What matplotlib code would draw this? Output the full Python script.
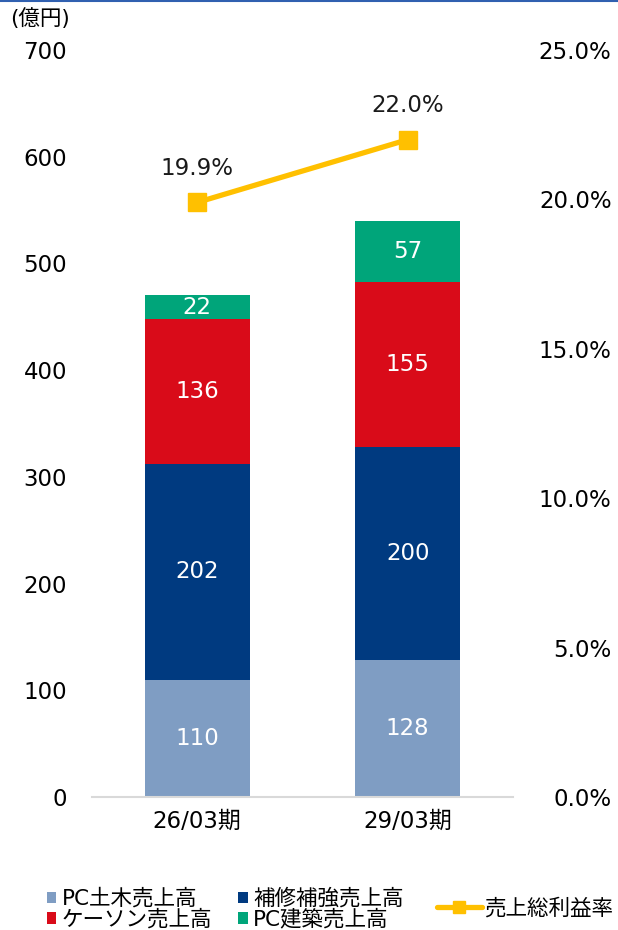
import matplotlib.pyplot as plt
from matplotlib.lines import Line2D
import numpy as np

plt.rcParams['font.family'] = ['DejaVu Sans', 'Noto Sans CJK JP']

# data
periods = ['26/03期', '29/03期']
pc_doboku = [110, 128]
hoshu = [202, 200]
caisson = [136, 155]
pc_kenchiku = [22, 57]
margin = [19.9, 22.0]

colors = {'doboku': '#7f9dc3', 'hoshu': '#003a80', 'caisson': '#d90b19',
          'kenchiku': '#00a57a', 'line': '#ffc000'}
fs = 16.5

fig = plt.figure(figsize=(6.18, 9.3), dpi=100)
ax = fig.add_axes([92/618, 1 - 797/930, (513-92)/618, (797-50)/930])
x = np.arange(len(periods))
w = 0.5

bottom = np.zeros(len(periods))
series = [('PC土木売上高', pc_doboku, colors['doboku']),
          ('補修補強売上高', hoshu, colors['hoshu']),
          ('ケーソン売上高', caisson, colors['caisson']),
          ('PC建築売上高', pc_kenchiku, colors['kenchiku'])]
bars = {}
for name, vals, c in series:
    b = ax.bar(x, vals, w, bottom=bottom, color=c, label=name)
    bars[name] = b
    for xi, v, b0 in zip(x, vals, bottom):
        ax.text(xi, b0 + v/2, str(v), ha='center', va='center', color='white', fontsize=fs)
    bottom = bottom + np.array(vals)

ax.set_xlim(-0.5, 1.5)
ax.set_ylim(0, 700)
ax.set_yticks(range(0, 701, 100))
ax.set_xticks(x)
ax.set_xticklabels(periods, fontsize=fs)
ax.tick_params(axis='y', length=0, labelsize=fs, pad=18)
ax.tick_params(axis='x', length=0, pad=9)
for s in ['top', 'right', 'left']:
    ax.spines[s].set_visible(False)
ax.spines['bottom'].set_color('#d9d9d9')
ax.spines['bottom'].set_linewidth(1.5)

ax2 = ax.twinx()
ax2.set_ylim(0, 25)
ax2.set_yticks(np.arange(0, 25.1, 5))
ax2.set_yticklabels([f'{v:.1f}%' for v in np.arange(0, 25.1, 5)])
ax2.tick_params(axis='y', length=0, labelsize=fs, pad=71)
for lab in ax2.get_yticklabels():
    lab.set_horizontalalignment('right')
for s in ax2.spines.values():
    s.set_visible(False)
ln, = ax2.plot(x, margin, color=colors['line'], lw=3.8, marker='s', ms=13,
               solid_capstyle='round', label='売上総利益率')
for xi, m in zip(x, margin):
    ax2.annotate(f'{m:.1f}%', (xi, m), xytext=(0, 16), textcoords='offset points',
                 ha='center', va='bottom', fontsize=fs, color='#1a1a1a')

fig.text(10/618, 1 - 19/930, '(億円)', fontsize=15.5, va='center', ha='left')

handles = [bars['PC土木売上高'], bars['ケーソン売上高'], bars['補修補強売上高'], bars['PC建築売上高']]
labels = ['PC土木売上高', 'ケーソン売上高', '補修補強売上高', 'PC建築売上高']
lfs = 15.5
fig.legend(handles, labels, ncol=2, loc='center left', bbox_to_anchor=(36/618, 1 - 909/930),
           frameon=False, fontsize=lfs, handlelength=0.45, handleheight=0.45, handletextpad=0.25,
           columnspacing=1.2, labelspacing=0.0, borderpad=0)
fig.legend([ln], ['売上総利益率'], loc='center left', bbox_to_anchor=(426/618, 1 - 908/930),
           frameon=False, fontsize=lfs, handlelength=2.1, handletextpad=0.1, borderpad=0,
           markerscale=0.7)

fig.add_artist(Line2D([0, 1], [0.999, 0.999], color='#3060b0', lw=1.5, transform=fig.transFigure))

fig.savefig('out.png', dpi=100)
